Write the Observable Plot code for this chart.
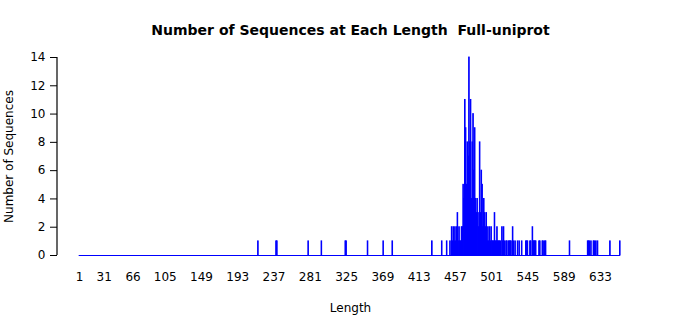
<!DOCTYPE html>
<html>
<head>
<meta charset="utf-8">
<script src="https://cdn.jsdelivr.net/npm/d3@7"></script>
<script src="https://cdn.jsdelivr.net/npm/@observablehq/plot@0.6"></script>
<style>
  html, body { margin: 0; padding: 0; background: white; }
</style>
</head>
<body>
<div id="chart"></div>
<script>
const title = "Number of Sequences at Each Length  Full-uniprot";
const xLabel = "Length";
const yLabel = "Number of Sequences";

// sequence lengths that have at least one sequence
const lengths = [
  218, 240, 241, 279, 295, 324, 325, 351, 370, 381, 429, 441, 447, 451,
  453, 454, 455, 456, 457, 458, 459, 460, 461, 462, 463, 464, 465, 466,
  467, 468, 469, 470, 471, 472, 473, 474, 475, 476, 477, 478, 479, 480,
  481, 482, 483, 484, 485, 486, 487, 488, 489, 490, 491, 492, 493, 494,
  495, 496, 497, 498, 499, 500, 501, 502, 503, 504, 505, 506, 507, 508,
  509, 510, 511, 512, 514, 515, 516, 517, 519, 520, 522, 523, 524, 525,
  527, 528, 530, 533, 535, 538, 543, 544, 545, 548, 549, 551, 552, 553,
  554, 555, 559, 560, 563, 564, 566, 567, 596, 618, 619, 620, 622, 625,
  626, 628, 630, 645, 657
];
// number of sequences at each of those lengths
const counts = [
  1, 1, 1, 1, 1, 1, 1, 1, 1, 1, 1, 1, 1, 1,
  2, 1, 2, 1, 2, 1, 2, 3, 1, 2, 1, 1, 2, 2,
  5, 4, 11, 9, 5, 8, 7, 14, 8, 11, 4, 8, 10, 6,
  9, 4, 3, 4, 3, 2, 8, 3, 6, 5, 2, 4, 3, 2,
  3, 1, 2, 1, 2, 1, 2, 1, 1, 1, 3, 1, 1, 2,
  1, 1, 1, 1, 2, 1, 2, 1, 1, 1, 1, 1, 1, 1,
  2, 1, 1, 1, 1, 1, 1, 1, 1, 1, 1, 2, 1, 1,
  1, 1, 1, 1, 1, 1, 1, 1, 1, 1, 1, 1, 1, 1,
  1, 1, 1, 1, 1
];
// full range of lengths on the axis (bars of zero height included)
const lengthSpan = [1, 657];

const xTicks = [1, 31, 66, 105, 149, 193, 237, 281, 325, 369, 413, 457, 501, 545, 589, 633];
const yTicks = [0, 2, 4, 6, 8, 10, 12, 14];

const data = lengths.map((L, i) => ({length: L, count: counts[i]}));
const barHalf = 0.4;

const marginLeft = 57, marginTop = 57, marginBottom = 60, marginRight = 57;

const chart = Plot.plot({
  width: 700,
  height: 315,
  marginLeft, marginTop, marginBottom, marginRight,
  style: {fontFamily: "DejaVu Sans", fontSize: "12px", color: "black", background: "white"},
  x: {domain: [1, 633], range: [79, 600]},
  y: {domain: [0, 14], range: [255, 57]},
  marks: [
    Plot.ruleY([0], {x1: lengthSpan[0] - barHalf, x2: lengthSpan[1] + barHalf, stroke: "#0000ff", strokeWidth: 1}),
    Plot.rectY(data, {
      x1: d => d.length - barHalf,
      x2: d => d.length + barHalf,
      y1: 0,
      y2: "count",
      fill: "#0000ff",
      stroke: "#0000ff",
      strokeWidth: 0.9
    }),
    Plot.axisY({ticks: yTicks, tickSize: 7, tickPadding: 5, label: null, anchor: "left"}),
    Plot.axisX({ticks: xTicks, tickSize: 0, tickPadding: 17, label: null, anchor: "bottom", tickFormat: d => String(d)}),
    Plot.text([title], {text: d => d, frameAnchor: "top", lineAnchor: "middle", dy: -27, fontWeight: "bold", fontSize: 14}),
    Plot.text([xLabel], {text: d => d, frameAnchor: "bottom", lineAnchor: "middle", dy: 53, fontSize: 12}),
    Plot.text([yLabel], {text: d => d, frameAnchor: "left", textAnchor: "middle", lineAnchor: "middle", dx: -48, rotate: -90, fontSize: 12})
  ]
});

// left spine
const yScale = chart.scale("y");
d3.select(chart).append("line")
  .attr("x1", marginLeft).attr("x2", marginLeft)
  .attr("y1", yScale.range[0]).attr("y2", yScale.range[1])
  .attr("stroke", "black").attr("stroke-width", 1.2);

document.getElementById("chart").appendChild(chart);
</script>
</body>
</html>
